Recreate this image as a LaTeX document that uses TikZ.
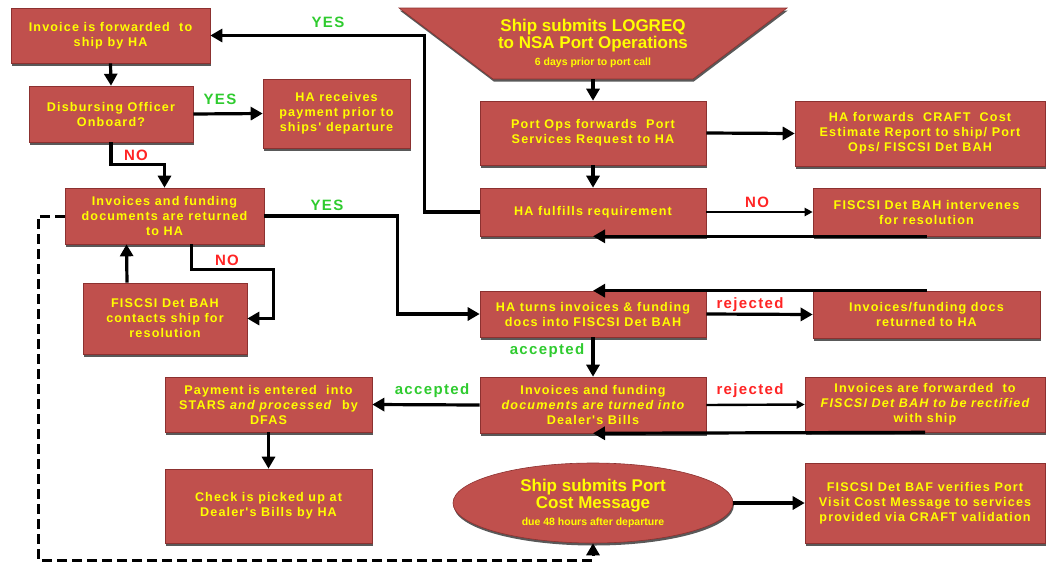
\documentclass[tikz,border=0pt]{standalone}
\usepackage{fontspec}
\setmainfont{Liberation Sans}
\newfontfamily\boxfont{Liberation Sans}[LetterSpace=9]
\usetikzlibrary{arrows.meta,shapes.geometric,shadows,positioning}
\definecolor{boxred}{HTML}{C0504D}
\definecolor{boxedge}{HTML}{8C3130}
\definecolor{txtyellow}{HTML}{FFFF00}
\definecolor{yesgreen}{HTML}{2FCB2F}
\definecolor{nored}{HTML}{FF2424}

\begin{document}
\begin{tikzpicture}[x=1pt,y=-1pt,
    box/.style={draw=boxedge,line width=0.6pt,fill=boxred,text=txtyellow,
        font=\boxfont\bfseries\fontsize{12.6}{15}\selectfont,align=center,inner sep=2pt,
        drop shadow={shadow xshift=0.8pt,shadow yshift=-2.5pt,fill=black!65,opacity=1}},
    bigtxt/.style={text=txtyellow,font=\bfseries\fontsize{17}{17}\selectfont,align=center},
    flow/.style={line width=3.2pt,-{Triangle[length=12pt,width=13pt]}},
    thinflow/.style={line width=2.4pt,-{Triangle[length=8pt,width=8pt]}},
    dashflow/.style={line width=3pt,dash pattern=on 10pt off 5pt,-{Triangle[length=12pt,width=13pt]}},
    yes/.style={text=yesgreen,font=\boxfont\bfseries\fontsize{15}{15}\selectfont},
    nolbl/.style={text=nored,font=\boxfont\bfseries\fontsize{15}{15}\selectfont}]

    \useasboundingbox (0,0) rectangle (1048,565);

    \path[draw=boxedge,line width=0.6pt,fill=boxred,
        drop shadow={shadow xshift=0.8pt,shadow yshift=-2.5pt,fill=black!65,opacity=1}]
        (399,8) -- (787,8) -- (693,79) -- (493,79) -- cycle;
    \node[bigtxt,minimum height=71pt,minimum width=200pt] (logreq) at (593,43.5)
        {Ship submits LOGREQ\\to NSA Port Operations\\{\fontsize{10.5}{12}\selectfont 6 days prior to port call}};

    \node[box,minimum width=199pt,minimum height=55pt] (inv) at (110.5,35.5)
        {Invoice is forwarded\ \ to\\ship by HA};
    \node[box,minimum width=164pt,minimum height=56pt] (dbo) at (111,114)
        {Disbursing Officer\\Onboard?};
    \node[box,minimum width=147pt,minimum height=69pt] (pay) at (336.5,113.5)
        {HA receives\\payment prior to\\ships' departure};
    \node[box,minimum width=226pt,minimum height=64pt] (portops) at (593,133)
        {Port Ops forwards\ \ Port\\Services Request to HA};
    \node[box,minimum width=250pt,minimum height=65pt] (craft) at (920,133.5)
        {HA forwards\ \ CRAFT\ \ Cost\\Estimate Report to ship/ Port\\Ops/ FISCSI Det BAH};
    \node[box,minimum width=226pt,minimum height=48pt] (fulfill) at (593,212)
        {HA fulfills requirement};
    \node[box,minimum width=227pt,minimum height=48pt] (interv) at (926.5,212)
        {FISCSI Det BAH intervenes\\for resolution};
    \node[box,minimum width=199pt,minimum height=56pt] (returned) at (164.5,216)
        {Invoices and funding\\documents are returned\\to HA};
    \node[box,minimum width=164pt,minimum height=71pt] (contacts) at (165,318.5)
        {FISCSI Det BAH\\contacts ship for\\resolution};
    \node[box,minimum width=226pt,minimum height=46pt] (turns) at (593,314)
        {HA turns invoices \& funding\\docs into FISCSI Det BAH};
    \node[box,minimum width=227pt,minimum height=47pt] (docsret) at (926.5,314.5)
        {Invoices/funding docs\\returned to HA};
    \node[box,minimum width=226pt,minimum height=56pt] (dealer) at (593,405)
        {Invoices and funding\\\itshape documents are turned into\\Dealer's Bills};
    \node[box,minimum width=240pt,minimum height=55pt] (fwd) at (925,404.5)
        {Invoices are forwarded\ \ to\\\itshape FISCSI Det BAH to be rectified\\with ship};
    \node[box,minimum width=207pt,minimum height=55pt] (payment) at (268.5,404.5)
        {Payment is entered\ \ into\\STARS \textit{and processed}\ \ by\\DFAS};
    \node[box,minimum width=207pt,minimum height=74pt] (check) at (268.5,506)
        {Check is picked up at\\Dealer's Bills by HA};
    \node[box,ellipse,inner sep=0pt,minimum width=280pt,minimum height=80pt,
        font=\bfseries\fontsize{17}{17}\selectfont] (pcm) at (593,503)
        {Ship submits Port\\Cost Message\\{\fontsize{10.5}{12}\selectfont due 48 hours after departure}};
    \node[box,minimum width=240pt,minimum height=80pt] (verify) at (925,503)
        {FISCSI Det BAF verifies Port\\Visit Cost Message to services\\provided via CRAFT validation};

    \coordinate (dl) at (38,560);

    \draw[flow] (logreq.south) -- (portops.north);
    \draw[flow] (portops.east) -- (craft.west);
    \draw[flow] (portops.south) -- (fulfill.north);
    \draw[flow] (fulfill.west) -- ++(-55,0) |- (inv.east);
    \draw[thinflow] (fulfill.east) -- (interv.west);
    \draw[flow] (interv.south) -- (fulfill.south);
    \draw[flow] (inv.south) -- (dbo.north);
    \draw[flow] (dbo.east) -- (pay.west);
    \draw[flow] (dbo.south) -- ++(0,22) -| (returned.north);
    \draw[flow] (returned.east) -- ++(133,0) |- (turns.west);
    \draw[flow] ([xshift=-38pt]contacts.north) -- ([xshift=-38pt]returned.south);
    \draw[flow] ([xshift=27pt]returned.south) -- ++(0,25) -- ++(82,0) |- (contacts.east);
    \draw[dashflow] (returned.west) -| (dl) -| (pcm.south);
    \draw[flow] (turns.east) -- (docsret.west);
    \draw[flow] (docsret.north) -- (turns.north);
    \draw[flow] (turns.south) -- (dealer.north);
    \draw[flow] (dealer.west) -- (payment.east);
    \draw[thinflow] (dealer.east) -- (fwd.west);
    \draw[flow] (fwd.south) -- (dealer.south);
    \draw[flow] (payment.south) -- (check.north);
    \draw[flow] (pcm.east) -- (verify.west);

    \node[yes] (yes1) at (328,22) {YES};
    \node[yes] (yes2) at (220,99) {YES};
    \node[yes] (yes3) at (327,205) {YES};
    \node[nolbl] (no1) at (136,155) {NO};
    \node[nolbl] (no2) at (227,260) {NO};
    \node[nolbl] (no3) at (757,202) {NO};
    \node[nolbl] (rej1) at (750,305) {rejected};
    \node[nolbl] (rej2) at (750,391) {rejected};
    \node[yes] (acc1) at (547,351) {accepted};
    \node[yes] (acc2) at (432,391) {accepted};
\end{tikzpicture}
\end{document}
